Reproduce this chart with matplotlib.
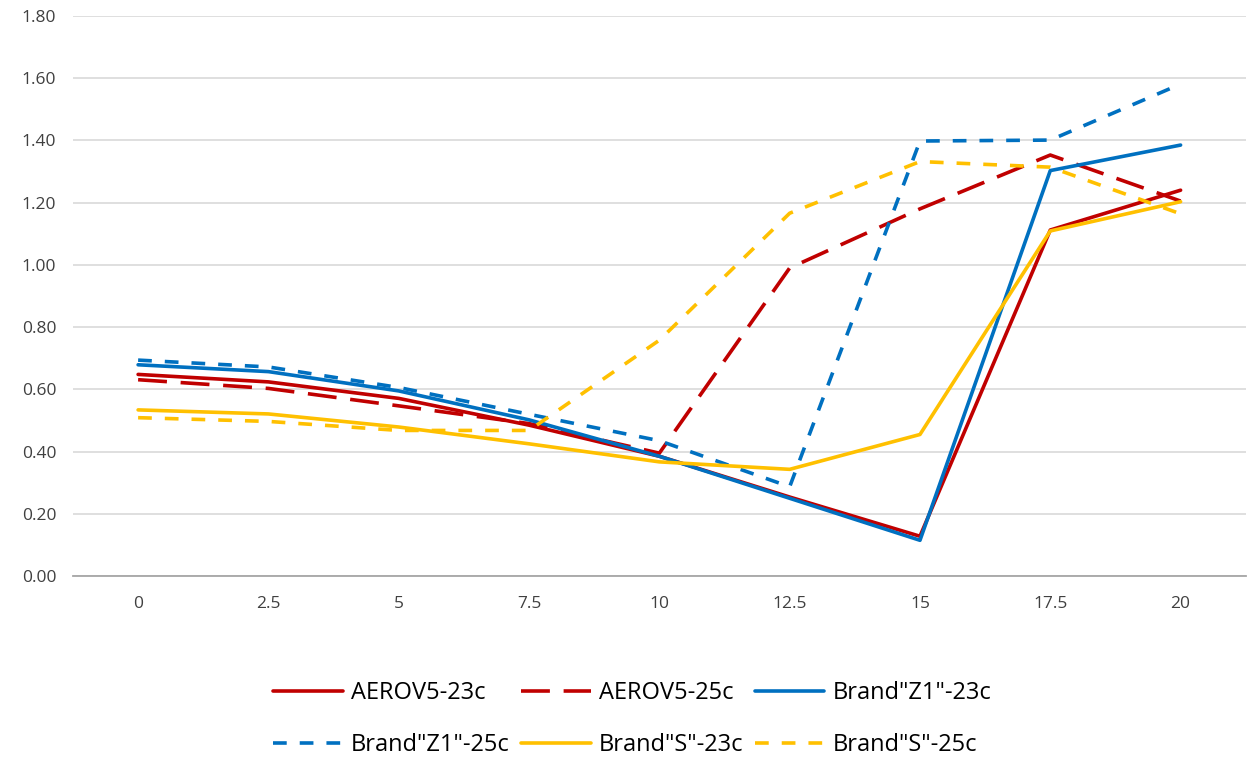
import matplotlib
matplotlib.use("Agg")
import matplotlib.pyplot as plt
from matplotlib.ticker import FormatStrFormatter

categories = ["0", "2.5", "5", "7.5", "10", "12.5", "15", "17.5", "20"]

aero_23 = [0.648, 0.624, 0.571, 0.485, 0.385, 0.254, 0.128, 1.112, 1.240]
aero_25 = [0.631, 0.603, 0.547, 0.490, 0.395, 0.990, 1.180, 1.353, 1.205]
z1_23 = [0.679, 0.657, 0.595, 0.502, 0.385, 0.250, 0.115, 1.303, 1.385]
z1_25 = [0.694, 0.672, 0.606, 0.520, 0.435, 0.287, 1.398, 1.401, 1.581]
s_23 = [0.534, 0.521, 0.479, 0.425, 0.367, 0.343, 0.455, 1.109, 1.203]
s_25 = [0.509, 0.497, 0.468, 0.468, 0.758, 1.166, 1.332, 1.314, 1.164]

series = [
    ("AEROV5-23c", aero_23, "#C00000", "solid"),
    ("AEROV5-25c", aero_25, "#C00000", (0, (8.0, 3.8))),
    ('Brand"Z1"-23c', z1_23, "#0070C0", "solid"),
    ('Brand"Z1"-25c', z1_25, "#0070C0", (0, (3.8, 3.6))),
    ('Brand"S"-23c', s_23, "#FFC000", "solid"),
    ('Brand"S"-25c', s_25, "#FFC000", (0, (3.8, 3.6))),
]

plt.rcParams['font.family'] = ['Open Sans', 'DejaVu Sans']

fig = plt.figure(figsize=(12.47, 7.58), dpi=100)
ax = fig.add_axes([0.0585, 0.240, 0.9405, 0.739])

x = list(range(len(categories)))
handles = []
for name, vals, color, ls in series:
    h, = ax.plot(x, vals, color=color, linestyle=ls, linewidth=2.6, label=name,
                 solid_capstyle='round', dash_capstyle='butt')
    handles.append(h)

ax.set_xlim(-0.5, len(categories) - 0.5)
ax.set_ylim(0, 1.8)
ax.set_yticks([i * 0.2 for i in range(10)])
ax.yaxis.set_major_formatter(FormatStrFormatter('%.2f'))
ax.set_xticks(x)
ax.set_xticklabels(categories)
ax.grid(axis='y', color='#D9D9D9', linewidth=1.2)
ax.set_axisbelow(True)
for s in ['top', 'right', 'left']:
    ax.spines[s].set_visible(False)
ax.spines['bottom'].set_color('#A6A6A6')
ax.spines['bottom'].set_linewidth(1.3)
ax.tick_params(axis='both', length=0, labelsize=12.5, colors='#404040')
ax.tick_params(axis='x', pad=14)
ax.tick_params(axis='y', pad=12)

order = [0, 3, 1, 4, 2, 5]
leg = fig.legend([handles[i] for i in order], [series[i][0] for i in order],
                 loc='center', bbox_to_anchor=(0.507, 0.0515), ncol=3,
                 frameon=False, fontsize=17, handlelength=2.95,
                 columnspacing=0.48, handletextpad=0.35, labelspacing=1.2,
                 borderpad=0.0)

fig.savefig("out.png", dpi=100)
